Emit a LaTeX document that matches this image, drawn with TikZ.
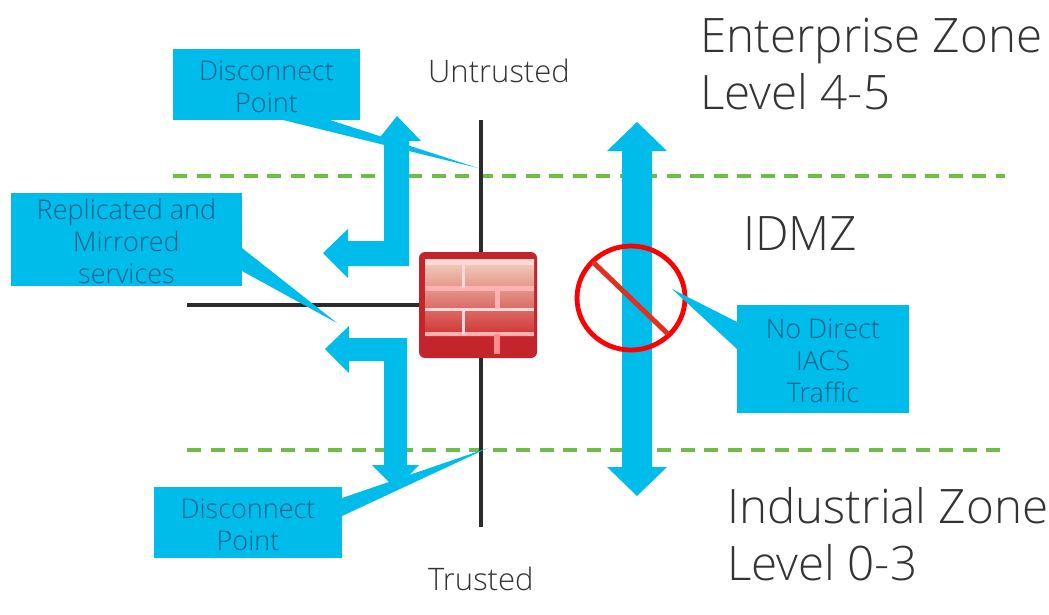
\documentclass[tikz,border=0pt]{standalone}
\usepackage{fontspec}
\usetikzlibrary{shapes.geometric}
\setmainfont{Open Sans Light}
\definecolor{calloutblue}{HTML}{00BCEB}
\definecolor{callouttext}{HTML}{0B5F8A}
\definecolor{zonegreen}{HTML}{6EBE45}
\definecolor{linegray}{HTML}{2B2B2B}
\definecolor{labelgray}{HTML}{333333}
\definecolor{wallred}{HTML}{C4242B}
\definecolor{slashred}{HTML}{E2301F}
\definecolor{brickpale}{HTML}{F2D2BE}
\definecolor{brickmid}{HTML}{DE7466}
\definecolor{brickdark}{HTML}{CF3334}
\tikzset{
  callout/.style={fill=calloutblue, text=callouttext, font=\fontsize{27}{32}\selectfont, align=center, inner sep=0pt},
  calloutword/.style={text=callouttext, font=\fontsize{27}{32}\selectfont, align=center, inner sep=0pt},
  zonelabel/.style={text=labelgray, font=\fontsize{47.5}{58}\selectfont, anchor=base west, inner sep=0pt},
  sidelabel/.style={text=labelgray, font=\fontsize{31}{34}\selectfont, anchor=base west, inner sep=0pt},
  zoneline/.style={zonegreen, line width=3.2pt, dash pattern=on 14pt off 9.5pt},
  wireline/.style={linegray, line width=4pt},
  brickline/.style={white!85!red, line width=3pt}
}
\begin{document}
\begin{tikzpicture}[x=1pt,y=-1pt]
\useasboundingbox (0,0) rectangle (1049,614);
\coordinate (utop) at (481,120);
\coordinate (ubot) at (481,527);
\coordinate (hleft) at (187,305);
\coordinate (zl1) at (173,176);
\coordinate (zr1) at (1005,176);
\coordinate (zl2) at (187,450);
\coordinate (zr2) at (1005,450);
\draw[zoneline](zl1) -- (zr1);
\draw[zoneline](zl2) -- (zr2);
\draw[wireline](utop) -- (ubot);
% firewall
\node[rectangle, rounded corners=6pt, fill=wallred, minimum width=118pt, minimum height=106pt, inner sep=0pt] (wall) at (478,305){};
\draw[wireline](hleft) -- (wall.west);
\shade[top color=brickpale, middle color=brickmid, bottom color=brickdark] (425,259) rectangle (534,336);
\draw[brickline, line width=5pt](425,262) -- (534,262);
\draw[brickline, line width=5pt, white!70!red](425,288) -- (534,288);
\draw[brickline](425,309) -- (534,309);
\draw[brickline, line width=4pt, white!70!red](425,334) -- (534,334);
\draw[brickline](463,262) -- (463,288);
\draw[brickline, line width=5pt, white!70!red](497,288) -- (497,309);
\draw[brickline](463,309) -- (463,334);
\draw[brickline, line width=6pt, white!55!red](497,334) -- (497,354);
% bent arrows
\fill[calloutblue] (397,116) -- (421,141) -- (409,141) -- (409,266) -- (348,266) -- (348,278) -- (323,253) -- (348,229) -- (348,241) -- (384,241) -- (384,141) -- (377,141) -- cycle;
\fill[calloutblue] (325,349) -- (349,326) -- (349,338) -- (407,338) -- (407,465) -- (419,465) -- (396,489) -- (372,465) -- (384,465) -- (384,361) -- (349,361) -- (349,373) -- cycle;
% blocked path
\fill[calloutblue] (637,122) -- (667,151) -- (652,151) -- (652,467) -- (667,467) -- (637,496) -- (607,467) -- (622,467) -- (622,151) -- (607,151) -- cycle;
\node[ellipse, draw=red, line width=4.8pt, minimum width=108pt, minimum height=104pt, inner sep=0pt] (nosign) at (631,298){};
\coordinate (slash1) at (593,262);
\coordinate (slash2) at (668,334);
\draw[draw=slashred, line width=5pt](slash1) -- (slash2);
% callouts
\node[callout, minimum width=187pt, minimum height=71pt] (disc1) at (266.5,84.5){};
\node[callout, minimum width=231pt, minimum height=93pt] (repl) at (126.5,239.5){};
\node[callout, minimum width=188pt, minimum height=71pt] (disc2) at (248,522.5){};
\node[callout, minimum width=172pt, minimum height=108pt] (nodirect) at (823,359){};
\node[calloutword] (disc1txt) at (266.5,86.5){Disconnect\\Point};
\node[calloutword] (repltxt) at (126.5,241){Replicated and\\Mirrored\\services};
\node[calloutword] (disc2txt) at (248,524.5){Disconnect\\Point};
\node[calloutword] (nodirecttxt) at (823,361){No Direct\\IACS\\Traffic};
\fill[calloutblue] (283,120) -- (478,168) -- (330,120) -- cycle;
\fill[calloutblue] (242,248) -- (337,323) -- (242,271) -- cycle;
\fill[calloutblue] (342,498) -- (488,448) -- (342,516) -- cycle;
\fill[calloutblue] (737,322) -- (672,289) -- (737,349) -- cycle;
% labels
\node[zonelabel] (entz) at (700,52){Enterprise Zone};
\node[zonelabel] (entl) at (700,109){Level 4-5};
\node[zonelabel] (idmz) at (743,250){IDMZ};
\node[zonelabel] (indz) at (727,523){Industrial Zone};
\node[zonelabel] (indl) at (727,580){Level 0-3};
\node[sidelabel] (untr) at (428,82){Untrusted};
\node[sidelabel] (trus) at (428,590){Trusted};
\end{tikzpicture}
\end{document}
